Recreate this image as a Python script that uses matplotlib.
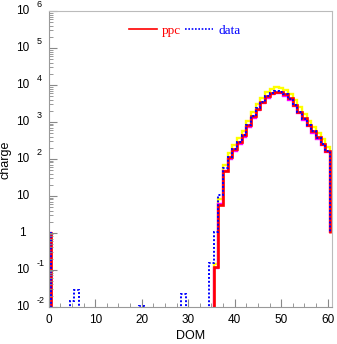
import numpy as np
import matplotlib
matplotlib.use('Agg')
import matplotlib.pyplot as plt
from matplotlib.lines import Line2D
from matplotlib.ticker import MultipleLocator, LogLocator, NullFormatter

# --- values per DOM (0..60); 0 = empty bin ---
dom = np.arange(61)

ppc = [1] + [0] * 35 + [
    0.12, 5.6, 48, 110, 180, 280, 430, 800, 1400, 2300, 3500, 4900,
    6000, 6600, 6500, 5600, 4300, 2900, 1900, 1250, 820, 560, 380, 260, 165]

data = [1, 0, 0, 0, 0, 0.014, 0.028] + [0] * 13 + [0.0105] + [0] * 8 + [0.022] + [0] * 5 + [
    0.15, 1.07, 10.5, 56, 115, 185, 285, 440, 820, 1420, 2350, 3550, 4950,
    6050, 6650, 6500, 5550, 4250, 2850, 1880, 1230, 810, 550, 375, 255, 160]

sim_hi = [1] + [0] * 35 + [
    0.14, 8.2, 68, 145, 240, 370, 570, 1050, 1850, 3000, 4500, 6400,
    7800, 8600, 8500, 7300, 5600, 3800, 2500, 1650, 1080, 740, 500, 340, 215]

sim_mid = [1] + [0] * 35 + [
    0.11, 6.0, 47, 102, 166, 258, 396, 736, 1290, 2120, 3220, 4510,
    5520, 6070, 5980, 5150, 3960, 2670, 1750, 1150, 755, 515, 350, 240, 152]

edges = np.append(dom - 0.5, dom[-1] + 0.5)

plt.rcParams['font.family'] = ['Liberation Sans', 'DejaVu Sans']

fig = plt.figure(figsize=(3.37, 3.44), dpi=100)
ax = fig.add_axes([0.1445, 0.1084, 0.8415, 0.8596])

ax.stairs(sim_hi, edges, baseline=1, color='#ffff00', lw=1.7)
ax.stairs(sim_mid, edges, baseline=1, color='#ff00ff', lw=1.7)
ax.stairs(ppc, edges, baseline=1, color='#ff0000', lw=1.9)
ax.stairs(data, edges, baseline=1, color='#0000ff', lw=1.4, linestyle=(0, (1, 1)))

ax.set_yscale('log')
ax.set_ylim(1e-2, 1e6)
ax.set_xlim(0, 61)

# frame
for s in ['left', 'bottom']:
    ax.spines[s].set_color('#999999')
for s in ['top', 'right']:
    ax.spines[s].set_color('#bbbbbb')

ax.xaxis.set_major_locator(MultipleLocator(10))
ax.xaxis.set_minor_locator(MultipleLocator(2.5))
ax.yaxis.set_major_locator(LogLocator(base=10, numticks=20))
ax.yaxis.set_minor_locator(LogLocator(base=10, subs=np.arange(2, 10), numticks=20))
ax.yaxis.set_major_formatter(NullFormatter())
ax.yaxis.set_minor_formatter(NullFormatter())
ax.tick_params(axis='both', which='major', direction='in', length=6, color='#888888')
ax.tick_params(axis='both', which='minor', direction='in', length=3, color='#888888')
ax.tick_params(axis='x', labelsize=8.5, pad=5)
ax.tick_params(top=False, right=False)

# y tick labels in ROOT style: "10" with a raised exponent
trans = ax.get_yaxis_transform()
for e in range(-2, 7):
    if e == 0:
        ax.text(-0.105, 1.0, '1', transform=trans, fontsize=8.5,
                ha='left', va='center', clip_on=False)
        continue
    ax.text(-0.115, 10.0 ** e, '10', transform=trans, fontsize=8.5,
            ha='left', va='center', clip_on=False)
    if e != 1:
        ax.text(-0.042, 10.0 ** (e + 0.17), str(e), transform=trans, fontsize=6.5,
                ha='left', va='center', clip_on=False)

ax.set_xlabel('DOM', fontsize=9, labelpad=3)
fig.text(0.016, 0.535, 'charge', rotation=90, fontsize=9, ha='center', va='center')

handles = [Line2D([], [], color='#ff0000', lw=1.2),
           Line2D([], [], color='#0000ff', lw=1.2, linestyle=(0, (1, 1)))]
leg = ax.legend(handles, ['ppc', 'data'], loc='upper center', bbox_to_anchor=(0.48, 0.995),
                ncol=2, frameon=False, prop={'family': 'Liberation Serif', 'size': 9.5},
                handlelength=2.1, handletextpad=0.4, columnspacing=0.3)
for txt, c in zip(leg.get_texts(), ['#ff0000', '#0000ff']):
    txt.set_color(c)

fig.savefig('out.png', dpi=100)
